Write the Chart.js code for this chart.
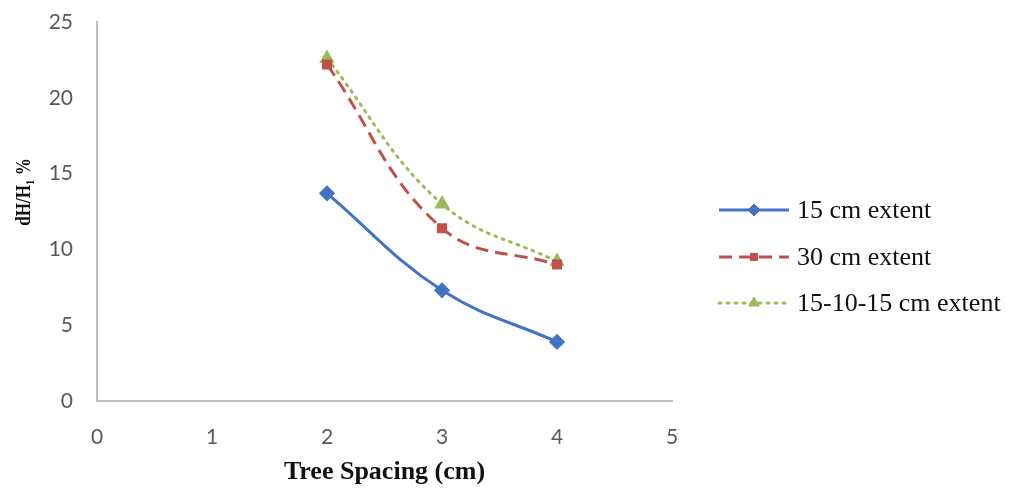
<!DOCTYPE html>
<html>
<head>
<meta charset="utf-8">
<script src="https://cdn.jsdelivr.net/npm/chart.js@4.4.1/dist/chart.umd.min.js"></script>
<style>
  html, body { margin: 0; padding: 0; background: #fff; }
  #wrap { width: 1014px; height: 490px; }
</style>
</head>
<body>
<div id="wrap"><canvas id="spacingChart" width="1014" height="490"></canvas></div>
<script>
// Tree spacing (cm) on x, dH/H1 % on y
const spacing = [2, 3, 4];
const extent15 = [13.7, 7.3, 3.9];
const extent30 = [22.2, 11.4, 9.0];
const extent151015 = [22.6, 13.0, 9.2];
const xTicks = [0, 1, 2, 3, 4, 5];
const yTicks = [0, 5, 10, 15, 20, 25];
const seriesNames = ['15 cm extent', '30 cm extent', '15-10-15 cm extent'];
const yTitle = 'dH/H\u2081 %';
const xTitle = 'Tree Spacing (cm)';

const toPoints = (vals) => spacing.map((x, i) => ({ x: x, y: vals[i] }));

// Legend on the right, line sample with marker in the middle (Excel style)
const sideLegend = {
  id: 'sideLegend',
  afterDraw(chart) {
    const ctx = chart.ctx;
    const rows = [210, 257, 303];
    ctx.save();
    chart.data.datasets.forEach((ds, i) => {
      const y = rows[i];
      ctx.strokeStyle = ds.borderColor;
      ctx.lineWidth = ds.borderWidth;
      ctx.lineCap = ds.borderCapStyle || 'butt';
      ctx.setLineDash(ds.borderDash || []);
      ctx.beginPath();
      ctx.moveTo(719, y);
      ctx.lineTo(789, y);
      ctx.stroke();
      ctx.setLineDash([]);
      ctx.lineCap = 'butt';
      ctx.fillStyle = ds.pointBackgroundColor;
      ctx.strokeStyle = ds.pointBorderColor;
      ctx.lineWidth = 1;
      Chart.helpers.drawPoint(ctx, {
        pointStyle: ds.pointStyle,
        radius: ds.pointRadius,
        rotation: 0,
        borderWidth: 1
      }, 754, y);
      ctx.fillStyle = '#111';
      ctx.font = '26px "Liberation Serif", "Times New Roman", serif';
      ctx.textBaseline = 'middle';
      ctx.textAlign = 'left';
      ctx.fillText(ds.label, 797, y + 1);
    });

    // y axis title, rotated (a bit condensed as in the source)
    ctx.translate(24, 192);
    ctx.rotate(-Math.PI / 2);
    ctx.scale(0.78, 1);
    ctx.fillStyle = '#111';
    ctx.font = 'bold 22px "Liberation Serif", "Times New Roman", serif';
    ctx.textAlign = 'center';
    ctx.textBaseline = 'middle';
    ctx.fillText(yTitle, 0, 0);
    ctx.restore();
  }
};

const tickFont = { family: 'Lato, "Open Sans", sans-serif', size: 21 };
const titleFont = { family: '"Liberation Serif", "Times New Roman", serif', size: 26, weight: 'bold' };

const chart = new Chart(document.getElementById('spacingChart').getContext('2d'), {
  type: 'line',
  data: {
    datasets: [
      {
        label: seriesNames[0],
        data: toPoints(extent15),
        borderColor: '#4472C4',
        borderWidth: 3,
        pointStyle: 'rectRot',
        pointRadius: 6,
        pointBackgroundColor: '#4472C4',
        pointBorderColor: '#4472C4',
        tension: 0.4
      },
      {
        label: seriesNames[1],
        data: toPoints(extent30),
        borderColor: '#C0504D',
        borderWidth: 3,
        borderDash: [13, 7],
        pointStyle: 'rect',
        pointRadius: 5,
        pointBackgroundColor: '#C0504D',
        pointBorderColor: '#C0504D',
        tension: 0.4
      },
      {
        label: seriesNames[2],
        data: toPoints(extent151015),
        borderColor: '#9BBB59',
        borderWidth: 3,
        borderDash: [2, 6],
        borderCapStyle: 'round',
        pointStyle: 'triangle',
        pointRadius: 6,
        pointBackgroundColor: '#9BBB59',
        pointBorderColor: '#9BBB59',
        tension: 0.4
      }
    ]
  },
  options: {
    responsive: false,
    animation: false,
    layout: { padding: { left: 0, right: 342, top: 22, bottom: 0 } },
    plugins: {
      legend: { display: false },
      tooltip: { enabled: false }
    },
    scales: {
      x: {
        type: 'linear',
        min: 0,
        max: 5,
        afterBuildTicks: (scale) => { scale.ticks = xTicks.map(v => ({ value: v })); },
        afterFit: (scale) => { scale.height = 89; },
        // invisible tick marks give the label offset without extra layout padding
        grid: { display: false, drawTicks: true, tickLength: 24 },
        border: { display: true, color: '#BFBFBF', width: 2 },
        ticks: { color: '#595959', font: tickFont, padding: 0 },
        title: {
          display: true,
          text: xTitle,
          color: '#111',
          font: titleFont,
          padding: { top: 0, bottom: 2 }
        }
      },
      y: {
        min: 0,
        max: 25,
        afterBuildTicks: (scale) => { scale.ticks = yTicks.map(v => ({ value: v })); },
        afterFit: (scale) => { scale.width = 97; },
        grid: { display: false, drawTicks: true, tickLength: 24 },
        border: { display: true, color: '#BFBFBF', width: 2 },
        ticks: { color: '#595959', font: tickFont, padding: 0 },
        title: { display: false }
      }
    }
  },
  plugins: [sideLegend]
});
</script>
</body>
</html>
